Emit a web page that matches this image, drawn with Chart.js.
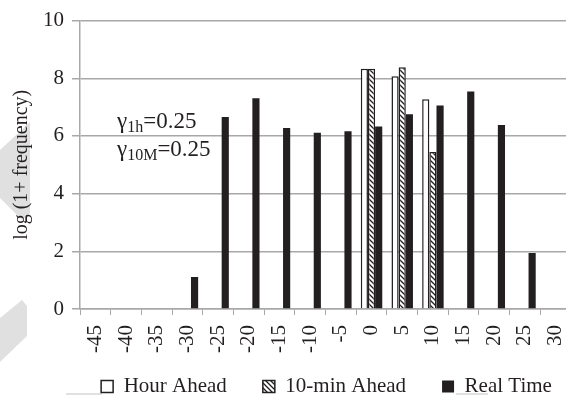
<!DOCTYPE html>
<html>
<head>
<meta charset="utf-8">
<script src="https://cdn.jsdelivr.net/npm/chart.js@4/dist/chart.umd.min.js"></script>
<style>
  html, body { margin: 0; padding: 0; background: #fff; overflow: hidden; }
  #wrap { width: 655px; height: 396px; }
</style>
</head>
<body>
<div id="wrap"><canvas id="c" width="655" height="396"></canvas></div>
<script>
// Forecast error bins (%)
const categories = ['-45','-40','-35','-30','-25','-20','-15','-10','-5','0','5','10','15','20','25','30'];

// log(1 + frequency) per bin
const hourAhead   = [null, null, null, null, null, null, null, null, null, 8.33, 8.07, 7.27, null, null, null, null];
const tenMinAhead = [null, null, null, null, null, null, null, null, null, 8.33, 8.38, 5.44, null, null, null, null];
const realTime    = [0, 0, 0, 1.11, 6.66, 7.31, 6.28, 6.11, 6.16, 6.33, 6.75, 7.06, 7.54, 6.38, 1.94, 0];

const yTicks = [0, 2, 4, 6, 8, 10];
const seriesNames = ['Hour Ahead', '10-min Ahead', 'Real Time'];

const INK = '#231f20';
const GRID = '#a8a8a8';
const FONT = '"Liberation Serif", "Times New Roman", serif';

// diagonal hatch fill for the 10-min series
function hatch() {
  const s = 5;
  const c = document.createElement('canvas');
  c.width = s; c.height = s;
  const g = c.getContext('2d');
  g.fillStyle = '#fff';
  g.fillRect(0, 0, s, s);
  g.strokeStyle = INK;
  g.lineWidth = 1.3;
  g.beginPath();
  g.moveTo(-1, -1); g.lineTo(s + 1, s + 1);
  g.moveTo(-1, s - 1); g.lineTo(1, s + 1);
  g.moveTo(s - 1, -1); g.lineTo(s + 1, 1);
  g.stroke();
  return g.createPattern(c, 'repeat');
}

// soft grey page marks behind the chart
const backdrop = {
  id: 'backdrop',
  beforeDraw(chart) {
    const ctx = chart.ctx;
    ctx.save();
    ctx.fillStyle = '#e0e0e0';
    ctx.beginPath();
    ctx.moveTo(0, 150); ctx.lineTo(30, 122); ctx.lineTo(30, 214); ctx.lineTo(22, 220); ctx.lineTo(0, 198);
    ctx.closePath(); ctx.fill();
    ctx.beginPath();
    ctx.moveTo(0, 318); ctx.lineTo(22, 300); ctx.lineTo(27, 306); ctx.lineTo(27, 336); ctx.lineTo(0, 362);
    ctx.closePath(); ctx.fill();
    ctx.strokeStyle = '#d8d8d8';
    ctx.lineWidth = 1.5;
    ctx.beginPath();
    ctx.moveTo(66, 394); ctx.lineTo(102, 394);
    ctx.moveTo(456, 394); ctx.lineTo(488, 394);
    ctx.stroke();
    ctx.restore();
  }
};

// parameter annotation with subscripts
const params = {
  id: 'params',
  afterDatasetsDraw(chart) {
    const ctx = chart.ctx;
    const x0 = chart.chartArea.left + 37;
    const lines = [
      { sub: '1h', y: chart.scales.y.getPixelForValue(6.28) },
      { sub: '10M', y: chart.scales.y.getPixelForValue(5.32) }
    ];
    ctx.save();
    ctx.fillStyle = INK;
    ctx.textBaseline = 'alphabetic';
    ctx.textAlign = 'left';
    lines.forEach(l => {
      let x = x0;
      ctx.font = '23px ' + FONT;
      ctx.fillText('\u03B3', x, l.y);
      x += ctx.measureText('\u03B3').width;
      ctx.font = '16px ' + FONT;
      ctx.fillText(l.sub, x, l.y + 4);
      x += ctx.measureText(l.sub).width;
      ctx.font = '23px ' + FONT;
      ctx.fillText('=0.25', x, l.y);
    });
    ctx.restore();
  }
};

// place the single legend row under the axis labels
const legendNudge = {
  id: 'legendNudge',
  afterLayout(chart) {
    const lg = chart.legend;
    if (lg) {
      lg.top = 340; lg.bottom = 396; lg.height = 56;
      lg.left += 41; lg.right += 41;
    }
  }
};

new Chart(document.getElementById('c'), {
  type: 'bar',
  data: {
    labels: categories,
    datasets: [
      { label: seriesNames[0], data: hourAhead, backgroundColor: '#ffffff', borderColor: INK, borderWidth: 1.5, borderSkipped: 'bottom' },
      { label: seriesNames[1], data: tenMinAhead, backgroundColor: hatch(), borderColor: INK, borderWidth: 1.5, borderSkipped: 'bottom' },
      { label: seriesNames[2], data: realTime, backgroundColor: INK, borderWidth: 0 }
    ]
  },
  options: {
    responsive: false,
    animation: false,
    events: [],
    categoryPercentage: 0.7,
    barPercentage: 1.0,
    layout: { padding: { left: 0, right: 84, top: 19, bottom: 0 } },
    plugins: {
      legend: {
        position: 'bottom',
        maxHeight: 35,
        labels: {
          font: { family: FONT, size: 21 },
          color: INK,
          boxWidth: 12,
          boxHeight: 12,
          padding: 36
        }
      },
      tooltip: { enabled: false }
    },
    scales: {
      x: {
        grid: { display: true, drawOnChartArea: false, drawTicks: true, tickLength: 6, color: GRID, offset: true },
        border: { display: true, color: GRID, width: 1.5 },
        ticks: {
          font: { family: FONT, size: 21 },
          color: INK,
          minRotation: 90,
          maxRotation: 90,
          padding: 10,
          autoSkip: false
        },
        afterFit(scale) { scale.height = 52; }
      },
      y: {
        min: 0,
        max: 10,
        afterBuildTicks(scale) { scale.ticks = yTicks.map(v => ({ value: v })); },
        grid: { color: GRID, lineWidth: 1.5, tickLength: 8 },
        border: { display: true, color: GRID, width: 1.5 },
        ticks: { font: { family: FONT, size: 21 }, color: INK, padding: 8 },
        title: {
          display: true,
          text: 'log (1+ frequency)',
          font: { family: FONT, size: 20 },
          color: INK,
          padding: { top: 10, bottom: 0 }
        },
        afterFit(scale) { scale.width = 80; }
      }
    }
  },
  plugins: [backdrop, params, legendNudge]
});
</script>
</body>
</html>
